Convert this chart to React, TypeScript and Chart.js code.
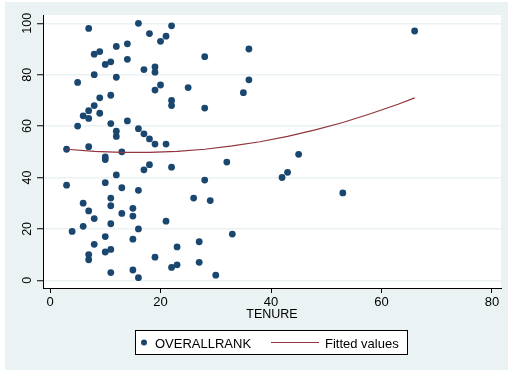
import React, { useEffect, useRef } from "react";
import { Chart, registerables } from "chart.js";

Chart.register(...registerables);

// ---- data ----
const tenure = [
  7, 16, 18, 20, 21, 22,
  8, 9, 12, 14, 10, 11, 14, 8, 12, 5, 17, 19, 19, 19, 20, 9, 11, 8, 7, 6, 7, 9, 5, 11, 14, 12, 12, 16, 17, 18, 19, 21, 3, 7, 13,
  25, 22, 22, 28, 28, 36, 36, 35, 66,
  10, 10, 18, 17, 22, 32, 45, 42, 43, 28, 53,
  3, 12, 10, 13, 16, 11, 11, 6, 7, 8, 13, 15, 15, 21, 11, 6, 4, 16, 10, 15, 8, 11, 10, 7, 7, 19, 15, 11, 16, 22, 23, 26, 29, 33, 27, 23, 27, 30,
];
const overallRank = [
  98, 100, 96, 93, 95, 99,
  88, 89, 91, 92, 84, 85, 86, 80, 79, 77, 82, 83, 81, 74, 76, 71, 72, 68, 66, 64, 63, 65, 60, 61, 62, 58, 56, 59, 57, 55, 53, 53, 51, 52, 50,
  75, 70, 68, 87, 67, 90, 78, 73, 97,
  48, 47, 45, 43, 44, 46, 49, 40, 42, 39, 34,
  37, 41, 38, 36, 35, 32, 29, 30, 27, 24, 26, 28, 25, 23, 22, 21, 19, 20, 17, 16, 14, 12, 11, 10, 8, 9, 4, 3, 1, 5, 6, 32, 31, 18, 15, 13, 7, 2,
];
const fitTenure = [3, 8, 13, 18, 23, 28, 33, 38, 43, 48, 53, 58, 63, 66];
const fitValues = [51.0, 50.2, 49.8, 49.8, 50.2, 51.0, 52.3, 53.9, 56.0, 58.5, 61.4, 64.8, 68.5, 71.0];
const xTicks = [0, 20, 40, 60, 80];
const yTicks = [0, 20, 40, 60, 80, 100];
const xTitle = "TENURE";
const legendLabels = ["OVERALLRANK", "Fitted values"];

// ---- styles ----
const FONT = '"Liberation Sans", Arial, sans-serif';
const BG = "#EAF2F3";
const GRID = "#EAF2F3";
const NAVY = "#1A476F";
const MAROON = "#90353B";

const decor = {
  id: "decor",
  beforeDraw(chart: any) {
    const { ctx, chartArea: a, width, height } = chart;
    ctx.save();
    ctx.fillStyle = "#ffffff";
    ctx.fillRect(0, 0, width, height);
    ctx.fillStyle = BG;
    ctx.fillRect(5, 2, width - 5, height - 2);
    ctx.fillStyle = "#ffffff";
    ctx.fillRect(a.left, a.top, a.right - a.left, a.bottom - a.top);
    ctx.restore();
  },
  afterDraw(chart: any) {
    const { ctx, chartArea: a } = chart;
    const ys = chart.scales.y;
    ctx.save();
    ctx.fillStyle = "#000";
    ctx.font = `12.5px ${FONT}`;
    ctx.textAlign = "center";
    ctx.textBaseline = "middle";
    for (const v of yTicks) {
      const py = ys.getPixelForValue(v);
      ctx.save();
      ctx.translate(27.5, py);
      ctx.rotate(-Math.PI / 2);
      ctx.fillText(String(v), 0, 0);
      ctx.restore();
    }
    // axis title
    ctx.textBaseline = "alphabetic";
    ctx.font = `12.5px ${FONT}`;
    ctx.fillText(xTitle, (a.left + a.right) / 2, 318.3);

    // legend
    ctx.fillStyle = "#ffffff";
    ctx.fillRect(135, 330, 272, 24);
    ctx.strokeStyle = "#000";
    ctx.lineWidth = 1;
    ctx.strokeRect(135.5, 330.5, 272, 24);
    ctx.fillStyle = NAVY;
    ctx.beginPath();
    ctx.arc(144, 342.5, 3, 0, Math.PI * 2);
    ctx.fill();
    ctx.fillStyle = "#000";
    ctx.font = `13px ${FONT}`;
    ctx.textAlign = "left";
    ctx.fillText(legendLabels[0], 155, 347.5);
    ctx.strokeStyle = MAROON;
    ctx.lineWidth = 1.2;
    ctx.beginPath();
    ctx.moveTo(271, 342.5);
    ctx.lineTo(319, 342.5);
    ctx.stroke();
    ctx.fillText(legendLabels[1], 325, 347.5);
    ctx.restore();
  },
};

export default function App() {
  const ref = useRef<HTMLCanvasElement>(null);

  useEffect(() => {
    document.body.style.margin = "0";
    const canvas = ref.current;
    if (!canvas) return;
    const chart = new Chart(canvas, {
      type: "scatter",
      data: {
        datasets: [
          {
            type: "line",
            label: legendLabels[1],
            data: fitTenure.map((x, i) => ({ x, y: fitValues[i] })),
            borderColor: MAROON,
            borderWidth: 1.2,
            pointRadius: 0,
            fill: false,
            tension: 0,
            showLine: true,
            order: 0,
          } as any,
          {
            type: "scatter",
            label: legendLabels[0],
            data: tenure.map((x, i) => ({ x, y: overallRank[i] })),
            backgroundColor: NAVY,
            borderWidth: 0,
            pointRadius: 3.4,
            order: 1,
          } as any,
        ],
      },
      options: {
        animation: false,
        responsive: false,
        devicePixelRatio: 1,
        layout: { padding: { top: 15, right: 7, left: 0, bottom: 0 } },
        plugins: {
          legend: { display: false },
          tooltip: { enabled: false },
        },
        scales: {
          x: {
            type: "linear",
            min: -1.27,
            max: 81.63,
            afterBuildTicks: (s: any) => {
              s.ticks = xTicks.map((v) => ({ value: v }));
            },
            afterFit: (s: any) => {
              s.height = 82;
            },
            ticks: {
              color: "#000",
              font: { family: FONT, size: 13 },
              padding: 2,
              maxRotation: 0,
              minRotation: 0,
            },
            grid: {
              drawOnChartArea: false,
              drawTicks: true,
              tickLength: 5,
              tickColor: "#000",
              tickWidth: 1,
            },
            border: { display: true, color: "#000", width: 1 },
          },
          y: {
            type: "linear",
            min: -3.0,
            max: 103.23,
            afterBuildTicks: (s: any) => {
              s.ticks = yTicks.map((v) => ({ value: v }));
            },
            afterFit: (s: any) => {
              s.width = 43;
            },
            ticks: { display: false },
            grid: {
              color: GRID,
              lineWidth: 1.5,
              drawTicks: true,
              tickLength: 6,
              tickColor: "#000",
              tickWidth: 1,
            },
            border: { display: true, color: "#000", width: 1 },
          },
        },
      } as any,
      plugins: [decor],
    });
    return () => chart.destroy();
  }, []);

  return (
    <div style={{ width: 508, height: 370 }}>
      <canvas ref={ref} width={508} height={370} style={{ display: "block", width: 508, height: 370 }} />
    </div>
  );
}
